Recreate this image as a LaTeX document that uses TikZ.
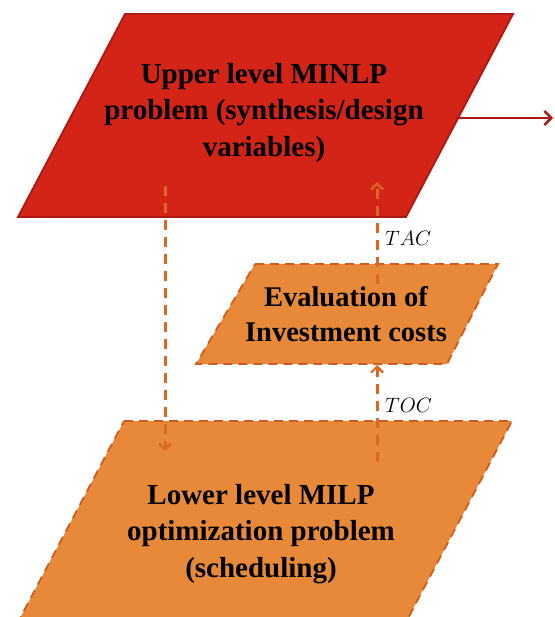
\documentclass[tikz,border=0pt]{standalone}
\usepackage{fontspec}
\setmainfont{Liberation Serif}
\usetikzlibrary{arrows.meta}
\definecolor{upred}{RGB}{212,36,24}
\definecolor{upredline}{RGB}{172,24,18}
\definecolor{orfill}{RGB}{232,137,58}
\definecolor{orline}{RGB}{206,92,28}
\definecolor{orarrow}{RGB}{216,104,36}
\tikzset{
  upbox/.style={fill=upred,draw=upredline,line width=1.8pt,line join=miter},
  orbox/.style={fill=orfill,draw=orline,line width=1.8pt,dash pattern=on 9pt off 6pt},
  boxtext/.style={align=center,font=\fontsize{29}{36.5}\selectfont\bfseries,text=black,inner sep=0pt},
  smalltext/.style={align=center,font=\fontsize{28.5}{35}\selectfont\bfseries,text=black,inner sep=0pt},
  lab/.style={anchor=west,font=\fontsize{22}{24}\selectfont,inner sep=0pt},
  dasharrow/.style={draw=orarrow,line width=3pt,dash pattern=on 10pt off 7pt,-{Straight Barb[length=6pt,width=12pt,line width=2.2pt]}},
  redarrow/.style={draw=upredline,line width=2.8pt,-{Straight Barb[length=7pt,width=14pt,line width=2.4pt]}}
}
\begin{document}
\begin{tikzpicture}[x=1pt,y=-1pt]
\useasboundingbox (0,0) rectangle (554,617);
\clip (0,0) rectangle (554,617);
% boxes
\path[upbox] (125,14) -- (513,14) -- (406,217) -- (18,217) -- cycle;
\path[orbox] (255,264) -- (498,264) -- (447,364) -- (196,364) -- cycle;
\path[orbox] (124,421) -- (512,421) -- (405,624) -- (17,624) -- cycle;
% texts
\node[boxtext] (upper) at (264,113) {Upper level MINLP\\problem (synthesis/design\\variables)};
\node[smalltext] (eval) at (346,314) {Evaluation of\\Investment costs};
\node[boxtext] (lower) at (261,534) {Lower level MILP\\optimization problem\\(scheduling)};
\node[lab] (tac) at (385,238) {$TAC$};
\node[lab] (toc) at (385,405) {$TOC$};
% connector end points
\coordinate (outS) at (456,118);
\coordinate (outE) at (553,118);
\coordinate (dnS) at (165,186);
\coordinate (dnE) at (165,451);
\coordinate (tacS) at (377,284);
\coordinate (tacE) at (377,182);
\coordinate (tocS) at (377,462);
\coordinate (tocE) at (377,365);
% connectors
\draw[redarrow] (outS) -- (outE);
\draw[dasharrow] (dnS) -- (dnE);
\draw[dasharrow] (tacS) -- (tacE);
\draw[dasharrow] (tocS) -- (tocE);
\end{tikzpicture}
\end{document}
